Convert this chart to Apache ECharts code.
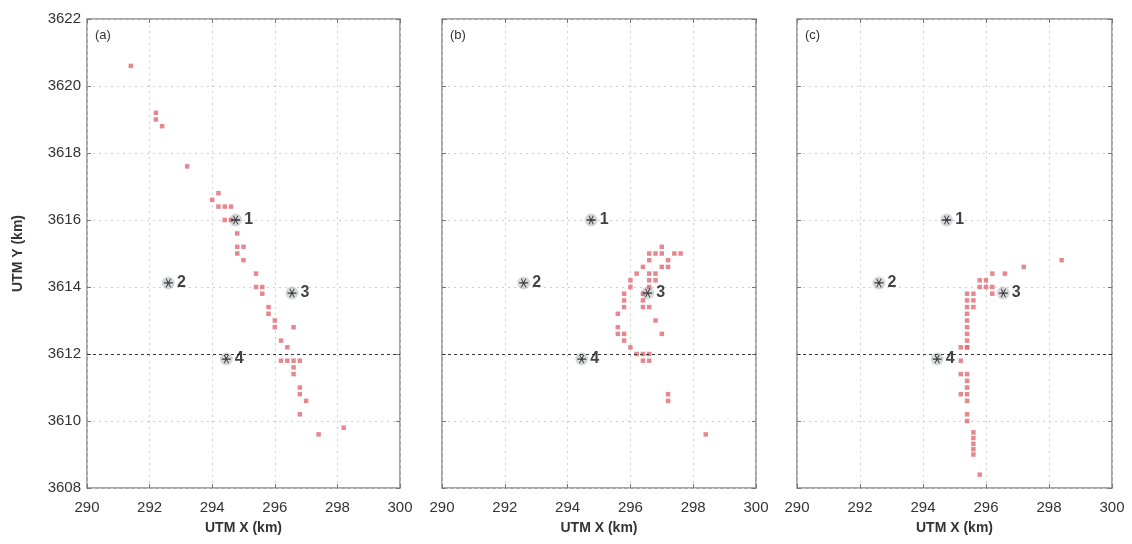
<!DOCTYPE html>
<html>
<head>
<meta charset="utf-8">
<script src="https://cdn.jsdelivr.net/npm/echarts@6/dist/echarts.min.js"></script>
<style>
html,body{margin:0;padding:0;background:#fff;}
#chart{width:1132px;height:544px;}
</style>
</head>
<body>
<div id="chart"></div>
<script>
// ---- Data ----
const panelLabels = ['(a)', '(b)', '(c)'];
const xTicks = [290, 292, 294, 296, 298, 300];
const yTicks = [3608, 3610, 3612, 3614, 3616, 3618, 3620, 3622];

const stationNames = ['1', '2', '3', '4'];
const stationX = [294.75, 292.6, 296.55, 294.45];
const stationY = [3616.0, 3614.12, 3613.82, 3611.85];

const aX = [291.4, 292.2, 292.2, 292.4, 293.2, 294.2, 294.0, 294.2, 294.4, 294.6, 294.4, 294.6,
            294.8, 294.8, 295.0, 294.8, 295.0, 295.4, 295.4, 295.6, 295.6, 295.8, 295.8, 296.0,
            296.0, 296.6, 296.2, 296.4, 296.2, 296.4, 296.6, 296.8, 296.6, 296.6, 296.8, 296.8,
            297.0, 296.8, 298.2, 297.4];
const aY = [3620.6, 3619.2, 3619.0, 3618.8, 3617.6, 3616.8, 3616.6, 3616.4, 3616.4, 3616.4, 3616.0, 3616.0,
            3615.6, 3615.2, 3615.2, 3615.0, 3614.8, 3614.4, 3614.0, 3614.0, 3613.8, 3613.4, 3613.2, 3613.0,
            3612.8, 3612.8, 3612.4, 3612.2, 3611.8, 3611.8, 3611.8, 3611.8, 3611.6, 3611.4, 3611.0, 3610.8,
            3610.6, 3610.2, 3609.8, 3609.6];

const bX = [297.0, 296.6, 296.8, 297.0, 297.4, 297.6, 296.6, 297.2, 296.4, 297.0, 297.2,
            296.2, 296.6, 296.8, 296.0, 296.6, 296.8, 296.0, 296.6, 295.8, 296.4, 295.8, 296.4,
            295.8, 296.4, 296.6, 295.6, 296.8, 295.6, 295.6, 295.8, 297.0, 295.8, 296.0,
            296.2, 296.4, 296.6, 296.4, 296.6, 297.2, 297.2, 298.4];
const bY = [3615.2, 3615.0, 3615.0, 3615.0, 3615.0, 3615.0, 3614.8, 3614.8, 3614.6, 3614.6, 3614.6,
            3614.4, 3614.4, 3614.4, 3614.2, 3614.2, 3614.2, 3614.0, 3614.0, 3613.8, 3613.8, 3613.6, 3613.6,
            3613.4, 3613.4, 3613.4, 3613.2, 3613.0, 3612.8, 3612.6, 3612.6, 3612.6, 3612.4, 3612.2,
            3612.0, 3612.0, 3612.0, 3611.8, 3611.8, 3610.8, 3610.6, 3609.6];

const cX = [298.4, 297.2, 296.2, 296.6, 295.8, 296.0, 295.8, 296.0, 296.2, 295.4, 295.6, 296.2,
            295.4, 295.6, 295.4, 295.6, 295.4, 295.4, 295.4, 295.4, 295.4, 295.4, 295.2, 295.4,
            295.2, 295.2, 295.4, 295.4, 295.4, 295.2, 295.4, 295.4, 295.4, 295.4,
            295.6, 295.6, 295.6, 295.6, 295.6, 295.8];
const cY = [3614.8, 3614.6, 3614.4, 3614.4, 3614.2, 3614.2, 3614.0, 3614.0, 3614.0, 3613.8, 3613.8, 3613.8,
            3613.6, 3613.6, 3613.4, 3613.4, 3613.2, 3613.0, 3612.8, 3612.6, 3612.4, 3612.2, 3612.2, 3612.2,
            3611.8, 3611.4, 3611.4, 3611.2, 3611.0, 3610.8, 3610.8, 3610.6, 3610.2, 3610.0,
            3609.66, 3609.49, 3609.32, 3609.16, 3609.0, 3608.4];

const panelX = [aX, bX, cX];
const panelY = [aY, bY, cY];
const darkGridY = 3612;

// ---- Chart ----
const zip = (xs, ys) => xs.map((v, i) => [v, ys[i]]);
const starPath = 'path://M0,4.4L10,4.4L10,5.6L0,5.6Z M7.0,0.8L7.9,1.3L3.0,9.2L2.1,8.7Z M2.1,1.3L3.0,0.8L7.9,8.7L7.0,9.2Z';

const grids = [
  {left: 87, top: 19, width: 313, height: 469},
  {left: 442, top: 19, width: 314, height: 469},
  {left: 797, top: 19, width: 315, height: 469}
];
grids.forEach(g => { g.show = true; g.borderColor = '#8a8a8a'; g.borderWidth = 1.5; g.backgroundColor = '#fff'; });

const labelFont = {fontFamily: 'Liberation Sans, Arial, sans-serif', fontSize: 15, color: '#333'};
const xAxes = [], yAxes = [], series = [];
const gridLine = {show: true, lineStyle: {color: '#cfcfcf', type: [2, 4], width: 1}};

for (let i = 0; i < 3; i++) {
  xAxes.push({
    gridIndex: i, type: 'value', min: xTicks[0], max: xTicks[xTicks.length - 1], interval: 2,
    position: 'bottom',
    axisLine: {show: false}, axisTick: {show: true, inside: true, length: 4, lineStyle: {color: '#777'}},
    splitLine: gridLine,
    axisLabel: Object.assign({margin: 12, showMinLabel: true, showMaxLabel: true, formatter: v => String(v)}, labelFont),
    name: 'UTM X (km)', nameLocation: 'middle', nameGap: 33,
    nameTextStyle: {fontFamily: 'Liberation Sans, Arial, sans-serif', fontSize: 14, fontWeight: 'bold', color: '#333'}
  });
  xAxes.push({
    gridIndex: i, type: 'value', min: xTicks[0], max: xTicks[xTicks.length - 1], interval: 2,
    position: 'top',
    axisLine: {show: false}, axisTick: {show: true, inside: true, length: 4, lineStyle: {color: '#777'}},
    splitLine: {show: false}, axisLabel: {show: false}
  });
  yAxes.push({
    gridIndex: i, type: 'value', min: yTicks[0], max: yTicks[yTicks.length - 1], interval: 2,
    position: 'left',
    axisLine: {show: false}, axisTick: {show: true, inside: true, length: 4, lineStyle: {color: '#777'}},
    splitLine: gridLine,
    axisLabel: Object.assign({show: i === 0, margin: 6, formatter: v => String(v)}, labelFont),
    name: i === 0 ? 'UTM Y (km)' : '', nameLocation: 'middle', nameGap: 62,
    nameTextStyle: {fontFamily: 'Liberation Sans, Arial, sans-serif', fontSize: 14, fontWeight: 'bold', color: '#333'}
  });
  yAxes.push({
    gridIndex: i, type: 'value', min: yTicks[0], max: yTicks[yTicks.length - 1], interval: 2,
    position: 'right',
    axisLine: {show: false}, axisTick: {show: true, inside: true, length: 4, lineStyle: {color: '#777'}},
    splitLine: {show: false}, axisLabel: {show: false}
  });

  // red grid-search points
  series.push({
    type: 'scatter', xAxisIndex: 2 * i, yAxisIndex: 2 * i,
    symbol: 'rect', symbolSize: 4.5,
    itemStyle: {color: '#e06a70'},
    data: zip(panelX[i], panelY[i]),
    markLine: {
      silent: true, symbol: 'none', label: {show: false},
      lineStyle: {color: '#333', type: [3, 3], width: 1.2},
      data: [{yAxis: darkGridY}]
    },
    z: 3
  });
  // station halo
  series.push({
    type: 'scatter', xAxisIndex: 2 * i, yAxisIndex: 2 * i,
    symbol: 'circle', symbolSize: 13,
    itemStyle: {color: 'rgba(110,115,130,0.35)'},
    data: zip(stationX, stationY), z: 4
  });
  // station asterisks with labels
  series.push({
    type: 'scatter', xAxisIndex: 2 * i, yAxisIndex: 2 * i,
    symbol: starPath, symbolSize: 9,
    itemStyle: {color: '#111'},
    label: {
      show: true, position: 'right', distance: 4,
      formatter: p => stationNames[p.dataIndex],
      fontFamily: 'Liberation Sans, Arial, sans-serif', fontSize: 16, fontWeight: 'bold', color: '#111'
    },
    data: zip(stationX, stationY), z: 5
  });
}

const titles = panelLabels.map((t, i) => ({
  text: t, left: grids[i].left + 3, top: grids[i].top + 5,
  textStyle: {fontFamily: 'Liberation Sans, Arial, sans-serif', fontSize: 13, fontWeight: 'normal', color: '#333'}
}));

const chart = echarts.init(document.getElementById('chart'), null, {renderer: 'canvas'});
chart.setOption({
  backgroundColor: '#fff',
  animation: false,
  title: titles,
  grid: grids,
  xAxis: xAxes,
  yAxis: yAxes,
  series: series
});
</script>
</body>
</html>
